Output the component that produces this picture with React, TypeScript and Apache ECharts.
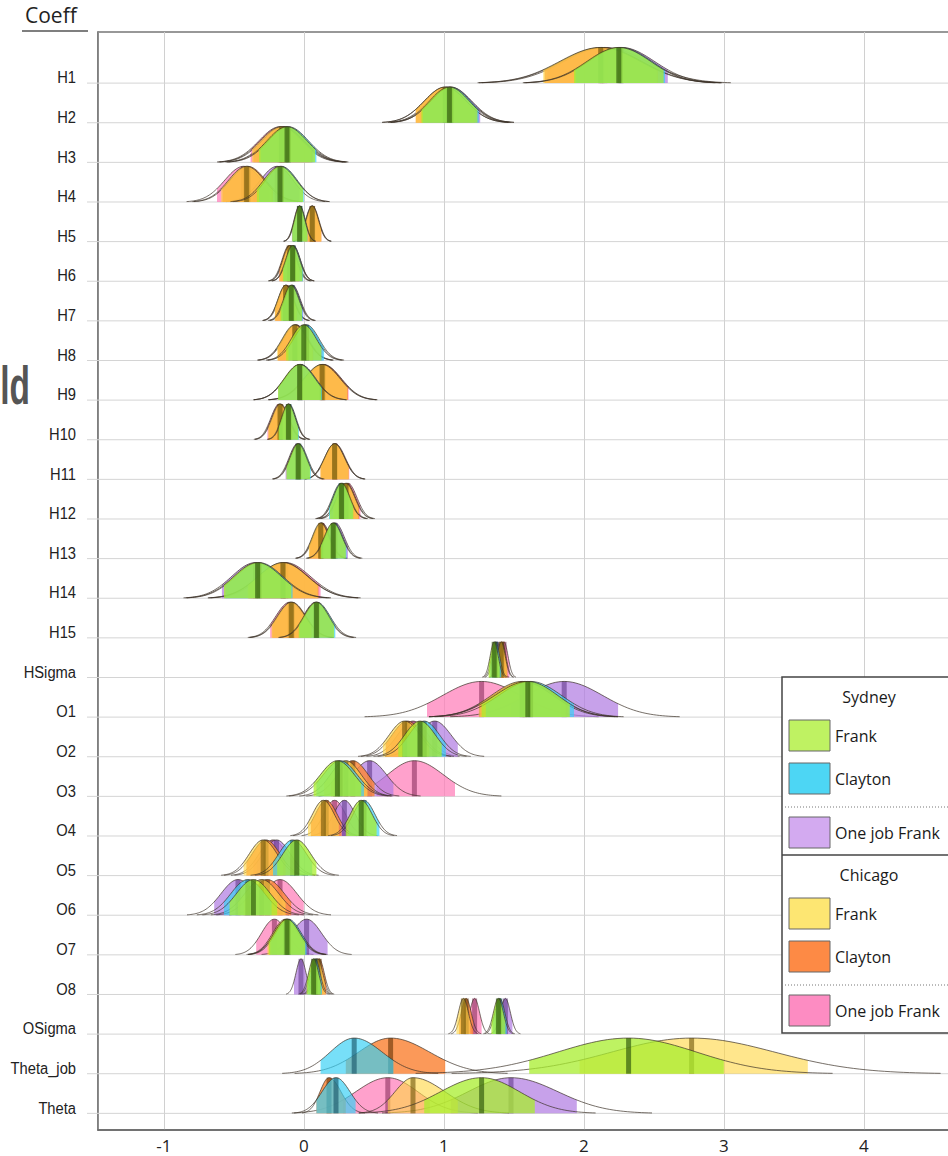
import React, { useEffect, useRef } from "react";
import * as echarts from "echarts";

const rowNames = [
  "H1", "H2", "H3", "H4", "H5", "H6", "H7", "H8", "H9", "H10", "H11", "H12", "H13", "H14", "H15",
  "HSigma", "O1", "O2", "O3", "O4", "O5", "O6", "O7", "O8", "OSigma", "Theta_job", "Theta",
];

// each entry: [lower edge of shaded interval, median, upper edge of shaded interval]
type Q = [number, number, number] | null;

const sydneyFrank: Q[] = [
  [1.93, 2.25, 2.57], [0.84, 1.04, 1.24], [-0.32, -0.12, 0.08], [-0.335, -0.17, -0.005],
  [-0.083, -0.03, 0.023], [-0.15, -0.08, -0.01], [-0.167, -0.09, -0.013], [-0.126, 0, 0.126],
  [-0.184, -0.03, 0.124], [-0.18, -0.11, -0.04], [-0.124, -0.04, 0.044], [0.186, 0.27, 0.354],
  [0.12, 0.21, 0.3], [-0.57, -0.33, -0.09], [-0.036, 0.09, 0.216], [1.32, 1.36, 1.4],
  [1.27, 1.6, 1.9], [0.675, 0.83, 0.985], [0.07, 0.24, 0.41], [0.3, 0.41, 0.52],
  [-0.19, -0.05, 0.09], [-0.53, -0.36, -0.19], [-0.25, -0.12, 0.01], [0.02, 0.07, 0.12],
  [1.34, 1.39, 1.44], [1.61, 2.32, 3.0], [0.86, 1.27, 1.65],
];
const sydneyClayton: Q[] = [
  [1.94, 2.26, 2.58], [0.85, 1.05, 1.25], [-0.31, -0.11, 0.09], [-0.32, -0.16, 0.0],
  [-0.08, -0.027, 0.026], [-0.145, -0.075, -0.005], [-0.16, -0.085, -0.008], [-0.11, 0.02, 0.145],
  [-0.18, -0.025, 0.13], [-0.175, -0.105, -0.035], [-0.12, -0.035, 0.05], [0.18, 0.265, 0.35],
  [0.125, 0.215, 0.305], [-0.56, -0.32, -0.08], [-0.03, 0.095, 0.225], [1.33, 1.37, 1.41],
  [1.3, 1.62, 1.93], [0.705, 0.86, 1.015], [0.09, 0.26, 0.43], [0.32, 0.43, 0.54],
  [-0.22, -0.08, 0.06], [-0.57, -0.4, -0.23], [-0.24, -0.11, 0.02], [0.03, 0.08, 0.13],
  [1.35, 1.4, 1.45], [0.12, 0.36, 0.64], [0.09, 0.23, 0.37],
];
const sydneyOneJob: Q[] = [
  [1.95, 2.27, 2.6], [0.85, 1.05, 1.26], [-0.33, -0.13, 0.07], [-0.36, -0.19, -0.03],
  [-0.085, -0.032, 0.021], [-0.145, -0.075, -0.005], [-0.155, -0.08, -0.003], [-0.115, 0.01, 0.135],
  [-0.18, -0.025, 0.13], [-0.18, -0.11, -0.04], [-0.13, -0.045, 0.04], [0.19, 0.275, 0.36],
  [0.135, 0.225, 0.315], [-0.585, -0.345, -0.105], [-0.04, 0.085, 0.21], [1.34, 1.38, 1.42],
  [1.48, 1.86, 2.245], [0.77, 0.935, 1.1], [0.3, 0.47, 0.64], [0.18, 0.29, 0.4],
  [-0.335, -0.195, -0.055], [-0.64, -0.47, -0.3], [-0.13, 0.02, 0.17], [-0.07, -0.02, 0.03],
  [1.39, 1.44, 1.49], null, [1.05, 1.48, 1.95],
];
const chicagoFrank: Q[] = [
  [1.71, 2.12, 2.52], [0.8, 1.01, 1.22], [-0.37, -0.16, 0.05], [-0.59, -0.41, -0.23],
  [-0.003, 0.06, 0.123], [-0.17, -0.1, -0.03], [-0.207, -0.13, -0.053], [-0.19, -0.065, 0.06],
  [-0.05, 0.13, 0.31], [-0.254, -0.17, -0.086], [0.12, 0.22, 0.32], [0.21, 0.3, 0.39],
  [0.036, 0.12, 0.204], [-0.4, -0.15, 0.1], [-0.23, -0.09, 0.05], [1.37, 1.41, 1.45],
  [1.25, 1.56, 1.87], [0.565, 0.72, 0.875], [0.145, 0.3, 0.455], [0.03, 0.14, 0.25],
  [-0.43, -0.29, -0.15], [-0.47, -0.3, -0.13], [-0.26, -0.13, 0.0], [0.05, 0.1, 0.15],
  [1.09, 1.14, 1.19], [1.97, 2.77, 3.6], [0.6, 0.78, 1.1],
];
const chicagoClayton: Q[] = [
  [1.72, 2.13, 2.53], [0.8, 1.01, 1.22], [-0.36, -0.15, 0.06], [-0.58, -0.4, -0.22],
  [0.0, 0.063, 0.126], [-0.175, -0.105, -0.035], [-0.205, -0.128, -0.05], [-0.185, -0.06, 0.065],
  [-0.045, 0.135, 0.315], [-0.25, -0.165, -0.08], [0.12, 0.22, 0.32], [0.215, 0.305, 0.395],
  [0.04, 0.125, 0.21], [-0.395, -0.145, 0.105], [-0.225, -0.085, 0.055], [1.375, 1.415, 1.455],
  [1.26, 1.58, 1.89], [0.585, 0.74, 0.895], [0.195, 0.35, 0.505], [0.05, 0.16, 0.27],
  [-0.41, -0.27, -0.13], [-0.43, -0.26, -0.09], [-0.25, -0.12, 0.01], [0.06, 0.11, 0.16],
  [1.11, 1.16, 1.21], [0.3, 0.62, 1.01], [0.09, 0.18, 0.3],
];
const chicagoOneJob: Q[] = [
  [1.74, 2.15, 2.57], [0.83, 1.03, 1.25], [-0.38, -0.17, 0.04], [-0.62, -0.43, -0.25],
  [-0.005, 0.058, 0.121], [-0.165, -0.095, -0.025], [-0.2, -0.123, -0.046], [-0.18, -0.055, 0.07],
  [-0.04, 0.14, 0.32], [-0.26, -0.175, -0.09], [0.125, 0.225, 0.325], [0.225, 0.315, 0.405],
  [0.045, 0.13, 0.215], [-0.38, -0.13, 0.12], [-0.24, -0.1, 0.04], [1.39, 1.43, 1.47],
  [0.88, 1.27, 1.66], [0.625, 0.78, 0.935], [0.52, 0.79, 1.08], [0.11, 0.22, 0.33],
  [-0.36, -0.22, -0.08], [-0.34, -0.17, 0.0], [-0.34, -0.21, -0.08], [0.04, 0.09, 0.14],
  [1.17, 1.22, 1.27], null, [0.28, 0.6, 0.9],
];

// draw order: first drawn is bottom-most
const groups = [
  { name: "Chicago One job Frank", data: chicagoOneJob, fill: "rgba(255,125,185,0.72)", bar: "rgba(130,40,85,0.55)" },
  { name: "Sydney One job Frank", data: sydneyOneJob, fill: "rgba(178,125,226,0.72)", bar: "rgba(90,50,130,0.55)" },
  { name: "Chicago Clayton", data: chicagoClayton, fill: "rgba(250,135,60,0.85)", bar: "rgba(100,50,5,0.6)" },
  { name: "Chicago Frank", data: chicagoFrank, fill: "rgba(255,215,70,0.62)", bar: "rgba(110,85,10,0.6)" },
  { name: "Sydney Clayton", data: sydneyClayton, fill: "rgba(55,208,245,0.68)", bar: "rgba(20,80,100,0.6)" },
  { name: "Sydney Frank", data: sydneyFrank, fill: "rgba(168,238,45,0.75)", bar: "rgba(45,85,10,0.65)" },
];

const Z = 1.4; // shaded interval half-width in sd units
const TAIL = 3.0; // outline extent in sd units
const PEAK = 0.9; // ridge height in row units
const N = 40;

function ridgeRenderer(fill: string, bar: string) {
  return (params: any, api: any) => {
    const row = api.value(0);
    const lo = api.value(1);
    const med = api.value(2);
    const hi = api.value(3);
    const sdL = Math.max((med - lo) / Z, 1e-6);
    const sdR = Math.max((hi - med) / Z, 1e-6);
    const xAt = (t: number) => med + t * (t < 0 ? sdL : sdR);
    const hAt = (t: number) => PEAK * Math.exp(-0.5 * t * t);
    const outline: number[][] = [];
    for (let i = -N; i <= N; i++) {
      const t = (i / N) * TAIL;
      outline.push(api.coord([xAt(t), row - hAt(t)]));
    }
    const area: number[][] = [api.coord([xAt(-Z), row])];
    for (let i = -N; i <= N; i++) {
      const t = (i / N) * Z;
      area.push(api.coord([xAt(t), row - hAt(t)]));
    }
    area.push(api.coord([xAt(Z), row]));
    const b0 = api.coord([med, row]);
    const b1 = api.coord([med, row - PEAK]);
    return {
      type: "group",
      children: [
        { type: "polygon", shape: { points: area }, style: { fill, stroke: "none" } },
        { type: "rect", shape: { x: b0[0] - 2.5, y: b1[1], width: 5, height: b0[1] - b1[1] }, style: { fill: bar } },
        { type: "polyline", shape: { points: outline }, style: { stroke: "rgba(60,50,40,0.7)", lineWidth: 1, fill: "none" } },
      ],
    };
  };
}

const rowFont = "'Liberation Sans', 'DejaVu Sans', sans-serif";
const uiFont = "'Open Sans', 'Noto Sans', sans-serif";

function rowRenderer(params: any, api: any) {
  const i = api.value(0);
  const cs = params.coordSys;
  const p = api.coord([0, i]);
  return {
    type: "group",
    children: [
      { type: "line", shape: { x1: cs.x - 11, y1: p[1], x2: cs.x + cs.width, y2: p[1] }, style: { stroke: "#d4d4d4", lineWidth: 1 } },
      {
        type: "text",
        x: 76,
        y: p[1] - 5.5,
        scaleX: 0.92,
        style: { text: rowNames[i], fontSize: 16, fontFamily: rowFont, fill: "#222", align: "right", verticalAlign: "middle" },
      },
    ],
  };
}

function legendGraphics() {
  const els: any[] = [];
  const z = 100;
  const sections = [
    { title: "Sydney", top: 677, items: [["Frank", "#bff262"], ["Clayton", "#4dd6f4"], ["One job Frank", "#d3aaf0"]] },
    { title: "Chicago", top: 855, items: [["Frank", "#fde672"], ["Clayton", "#fd8a45"], ["One job Frank", "#fd8cc2"]] },
  ];
  els.push({ type: "rect", z, shape: { x: 782, y: 677, width: 220, height: 356 }, style: { fill: "#fff", stroke: "#444", lineWidth: 1.5 } });
  els.push({ type: "line", z: z + 1, shape: { x1: 782, y1: 855, x2: 1000, y2: 855 }, style: { stroke: "#444", lineWidth: 1.5 } });
  sections.forEach((s) => {
    const t = s.top;
    els.push({ type: "text", z: z + 1, x: 869, y: t + 20, style: { text: s.title, fontSize: 16, fontFamily: uiFont, fill: "#1a1a1a", align: "center", verticalAlign: "middle" } });
    const tops = [t + 43, t + 86, t + 140];
    s.items.forEach((it, k) => {
      els.push({ type: "rect", z: z + 1, shape: { x: 789, y: tops[k], width: 41, height: 31 }, style: { fill: it[1], stroke: "#666", lineWidth: 1 } });
      els.push({ type: "text", z: z + 1, x: 835, y: tops[k] + 16, style: { text: it[0], fontSize: 16, fontFamily: uiFont, fill: "#1a1a1a", align: "left", verticalAlign: "middle" } });
    });
    els.push({ type: "line", z: z + 1, shape: { x1: 782, y1: t + 130, x2: 1000, y2: t + 130 }, style: { stroke: "#777", lineWidth: 1, lineDash: [1, 2] } });
  });
  return els;
}

export default function App() {
  const ref = useRef<HTMLDivElement>(null);
  useEffect(() => {
    if (!ref.current) return;
    const chart = echarts.init(ref.current, null, { renderer: "svg" });
    const series: any[] = [
      {
        type: "custom",
        name: "rows",
        silent: true,
        renderItem: rowRenderer,
        data: rowNames.map((_, i) => [i]),
        encode: { y: 0 },
      },
    ];
    groups.forEach((g) => {
      series.push({
        type: "custom",
        name: g.name,
        silent: true,
        renderItem: ridgeRenderer(g.fill, g.bar),
        dimensions: ["row", "lo", "med", "hi"],
        encode: { x: [1, 2, 3], y: 0 },
        data: g.data.map((v, i) => (v ? [i, v[0], v[1], v[2]] : null)).filter((d) => d !== null),
      });
    });
    chart.setOption({
      animation: false,
      backgroundColor: "#fff",
      grid: { left: 98, top: 32, width: 891.8, height: 1098, show: true, borderColor: "#777", borderWidth: 1.5 },
      xAxis: {
        type: "value",
        position: "bottom",
        min: -1.47,
        max: 4.9,
        axisLine: { show: true, onZero: false, lineStyle: { color: "#666", width: 1.5 } },
        axisTick: { show: false },
        axisLabel: {
          fontSize: 17,
          fontFamily: uiFont,
          color: "#222",
          margin: 8,
          lineHeight: 14,
          formatter: (v: number) => (Math.abs(v - Math.round(v)) < 1e-9 ? String(Math.round(v)) : ""),
        },
        splitLine: { show: true, lineStyle: { color: "#d0d0d0", width: 1 } },
      },
      yAxis: {
        type: "value",
        inverse: true,
        min: -1.29,
        max: 26.42,
        axisLine: { show: true, onZero: false, lineStyle: { color: "#777", width: 1.5 } },
        axisTick: { show: false },
        axisLabel: { show: false },
        splitLine: { show: false },
      },
      graphic: [
        { type: "text", x: 25, y: 15, style: { text: "Coeff", fontSize: 21, fontFamily: uiFont, fill: "#222", align: "left", verticalAlign: "middle" } },
        { type: "line", shape: { x1: 22, y1: 31, x2: 88, y2: 31 }, style: { stroke: "#555", lineWidth: 1.5 } },
        {
          type: "text",
          x: 30,
          y: 385,
          scaleX: 0.62,
          style: { text: "ld", fontSize: 54, fontWeight: "bold", fontFamily: "'Liberation Sans', 'DejaVu Sans', sans-serif", fill: "#555", align: "right", verticalAlign: "middle" },
        },
        ...legendGraphics(),
      ],
      series,
    });
    return () => chart.dispose();
  }, []);
  return (
    <div style={{ position: "absolute", left: 0, top: 0, width: 948, height: 1156, overflow: "hidden", background: "#fff" }}>
      <div ref={ref} style={{ width: 1000, height: 1156 }} />
    </div>
  );
}
